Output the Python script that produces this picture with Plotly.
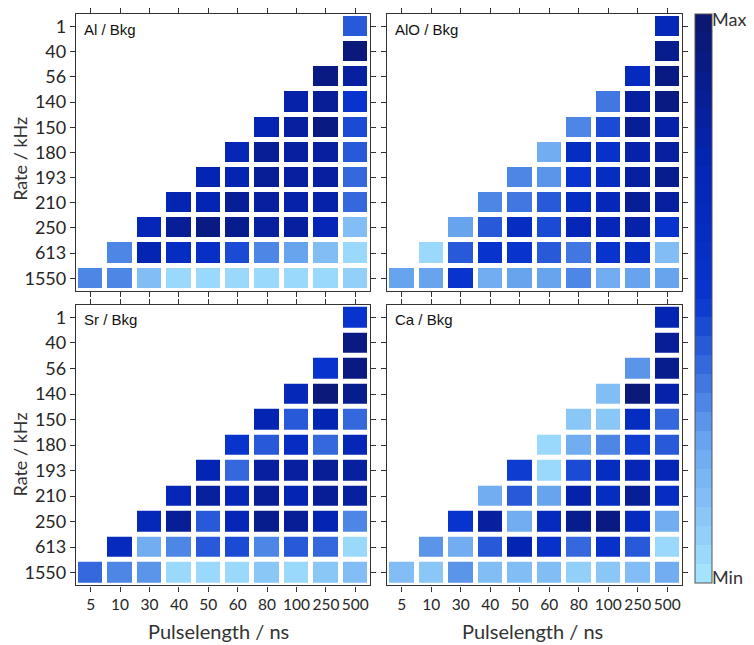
import plotly.graph_objects as go

rates = ["1", "40", "56", "140", "150", "180", "193", "210", "250", "613", "1550"]
pulses = ["5", "10", "30", "40", "50", "60", "80", "100", "250", "500"]
N = None

al_bkg = [
    [N, N, N, N, N, N, N, N, N, 0.42],
    [N, N, N, N, N, N, N, N, N, 0.95],
    [N, N, N, N, N, N, N, N, 0.93, 0.80],
    [N, N, N, N, N, N, N, 0.78, 0.85, 0.52],
    [N, N, N, N, N, N, 0.75, 0.82, 0.92, 0.45],
    [N, N, N, N, N, 0.72, 0.85, 0.82, 0.82, 0.42],
    [N, N, N, N, 0.75, 0.75, 0.85, 0.82, 0.82, 0.38],
    [N, N, N, 0.75, 0.75, 0.85, 0.80, 0.78, 0.78, 0.38],
    [N, N, 0.72, 0.85, 0.90, 0.87, 0.82, 0.82, 0.70, 0.15],
    [N, 0.30, 0.75, 0.60, 0.58, 0.45, 0.30, 0.25, 0.15, 0.06],
    [0.30, 0.32, 0.15, 0.04, 0.04, 0.04, 0.05, 0.06, 0.06, 0.08],
]

alo_bkg = [
    [N, N, N, N, N, N, N, N, N, 0.68],
    [N, N, N, N, N, N, N, N, N, 0.88],
    [N, N, N, N, N, N, N, N, 0.65, 0.92],
    [N, N, N, N, N, N, N, 0.35, 0.82, 0.90],
    [N, N, N, N, N, N, 0.32, 0.45, 0.85, 0.78],
    [N, N, N, N, N, 0.22, 0.60, 0.55, 0.78, 0.80],
    [N, N, N, N, 0.32, 0.28, 0.50, 0.60, 0.82, 0.88],
    [N, N, N, 0.30, 0.35, 0.42, 0.60, 0.68, 0.85, 0.80],
    [N, N, 0.25, 0.40, 0.60, 0.45, 0.72, 0.70, 0.78, 0.50],
    [N, 0.04, 0.42, 0.52, 0.52, 0.42, 0.35, 0.50, 0.62, 0.15],
    [0.25, 0.25, 0.52, 0.20, 0.25, 0.25, 0.32, 0.22, 0.25, 0.25],
]

sr_bkg = [
    [N, N, N, N, N, N, N, N, N, 0.50],
    [N, N, N, N, N, N, N, N, N, 0.92],
    [N, N, N, N, N, N, N, N, 0.50, 0.92],
    [N, N, N, N, N, N, N, 0.68, 0.95, 0.88],
    [N, N, N, N, N, N, 0.75, 0.40, 0.75, 0.38],
    [N, N, N, N, N, 0.50, 0.42, 0.60, 0.38, 0.70],
    [N, N, N, N, 0.75, 0.38, 0.80, 0.80, 0.85, 0.82],
    [N, N, N, 0.72, 0.82, 0.70, 0.85, 0.75, 0.85, 0.82],
    [N, N, 0.68, 0.85, 0.42, 0.72, 0.88, 0.85, 0.75, 0.30],
    [N, 0.65, 0.22, 0.30, 0.40, 0.45, 0.32, 0.42, 0.38, 0.04],
    [0.38, 0.30, 0.28, 0.04, 0.04, 0.04, 0.10, 0.05, 0.12, 0.14],
]

ca_bkg = [
    [N, N, N, N, N, N, N, N, N, 0.75],
    [N, N, N, N, N, N, N, N, N, 0.85],
    [N, N, N, N, N, N, N, N, 0.28, 0.88],
    [N, N, N, N, N, N, N, 0.15, 0.95, 0.78],
    [N, N, N, N, N, N, 0.12, 0.10, 0.62, 0.38],
    [N, N, N, N, N, 0.04, 0.22, 0.30, 0.48, 0.40],
    [N, N, N, N, 0.48, 0.04, 0.45, 0.62, 0.72, 0.72],
    [N, N, N, 0.20, 0.40, 0.25, 0.78, 0.60, 0.85, 0.60],
    [N, N, 0.50, 0.80, 0.22, 0.65, 0.88, 0.90, 0.65, 0.22],
    [N, 0.28, 0.20, 0.40, 0.75, 0.55, 0.38, 0.55, 0.40, 0.04],
    [0.15, 0.10, 0.28, 0.15, 0.15, 0.15, 0.08, 0.12, 0.15, 0.20],
]

panel_names = ["Al / Bkg", "AlO / Bkg", "Sr / Bkg", "Ca / Bkg"]
panel_data = [al_bkg, alo_bkg, sr_bkg, ca_bkg]

# ---------- style ----------
OFF = 8  # page body margin
W, H = 754 - 2 * OFF, 645 - OFF
anchors = [(0.0, (168, 230, 255)), (0.25, (104, 164, 238)), (0.5, (8, 52, 206)),
           (0.75, (4, 36, 178)), (1.0, (11, 22, 108))]


def interp(t):
    for (t0, c0), (t1, c1) in zip(anchors[:-1], anchors[1:]):
        if t0 <= t <= t1:
            f = (t - t0) / (t1 - t0)
            c = [round(a + (b - a) * f) for a, b in zip(c0, c1)]
            return "rgb(%d,%d,%d)" % tuple(c)
    return "rgb(%d,%d,%d)" % anchors[-1][1]


nsteps = 30
colorscale = []
for i in range(nsteps):
    col = interp((i + 0.5) / nsteps)
    colorscale.append([i / nsteps, col])
    colorscale.append([(i + 1) / nsteps, col])


def px_x(p):
    return min(1.0, max(0.0, (p - OFF) / W))


def px_y(p):
    return min(1.0, max(0.0, 1 - (p - OFF) / H))


xdoms = [(76, 370), (387, 682)]
ydoms = [(9, 288), (302, 585)]
label_y = [25, 317]

fig = go.Figure()
ytick_font = dict(family="Lato, sans-serif", size=18, color="#262626")
xtick_font = dict(family="Lato, sans-serif", size=15.5, color="#262626")

for k, (name, z) in enumerate(zip(panel_names, panel_data)):
    r, c = divmod(k, 2)
    ax = "" if k == 0 else str(k + 1)
    fig.add_trace(go.Heatmap(
        z=z, x=pulses, y=rates, coloraxis="coloraxis",
        xgap=5, ygap=5, hoverongaps=False,
        xaxis="x" + ax, yaxis="y" + ax,
    ))
    common = dict(showline=True, linecolor="#333333", linewidth=1.3, mirror="ticks",
                  ticks="outside", ticklen=5, tickcolor="#333333", tickwidth=1,
                  showgrid=False, zeroline=False, type="category", tickangle=0)
    fig.layout["xaxis" + ax] = dict(
        common, domain=[px_x(xdoms[c][0]), px_x(xdoms[c][1])], tickfont=xtick_font,
        anchor="y" + ax, range=[-0.5, 9.5], showticklabels=(r == 1),
        categoryorder="array", categoryarray=pulses,
    )
    fig.layout["yaxis" + ax] = dict(
        common, domain=[px_y(ydoms[r][1]), px_y(ydoms[r][0])], tickfont=ytick_font,
        anchor="x" + ax, range=[10.5, -0.5], showticklabels=(c == 0),
        categoryorder="array", categoryarray=rates,
    )
    fig.add_annotation(
        x=px_x(xdoms[c][0] + 6), y=px_y(label_y[r]), xref="paper", yref="paper",
        text=name, showarrow=False, xanchor="left", yanchor="middle",
        font=dict(family="Liberation Sans, Arial, sans-serif", size=15, color="#111111"),
    )

title_font = dict(family="Lato, sans-serif", size=18, color="#333333")
for yc in (155, 453):
    fig.add_annotation(x=px_x(20), y=px_y(yc), xref="paper", yref="paper",
                       text="Rate / kHz", textangle=-90, showarrow=False,
                       xanchor="center", yanchor="middle", font=title_font)
for xc in (218, 532):
    fig.add_annotation(x=px_x(xc), y=px_y(631), xref="paper", yref="paper",
                       text="Pulselength / ns", showarrow=False,
                       xanchor="center", yanchor="middle",
                       font=dict(title_font, size=20))

fig.add_annotation(x=px_x(710), y=px_y(14), xref="paper", yref="paper", text="Max",
                   showarrow=False, xanchor="left", yanchor="middle", font=title_font)
fig.add_annotation(x=px_x(710), y=px_y(576), xref="paper", yref="paper", text="Min",
                   showarrow=False, xanchor="left", yanchor="middle", font=title_font)

cb_top, cb_bot = 9, 583
fig.update_layout(
    width=W, height=H, margin=dict(l=0, r=0, t=0, b=0),
    paper_bgcolor="white", plot_bgcolor="white", showlegend=False,
    coloraxis=dict(
        colorscale=colorscale, cmin=0, cmax=1,
        colorbar=dict(
            x=px_x(695), xanchor="left", thickness=17, thicknessmode="pixels",
            len=(cb_bot - cb_top) / H, lenmode="fraction",
            y=px_y((cb_top + cb_bot) / 2), yanchor="middle",
            xpad=0, ypad=0, outlinewidth=1, outlinecolor="#555555",
            showticklabels=False, ticks="",
        ),
    ),
)

fig.write_html("out.html")
